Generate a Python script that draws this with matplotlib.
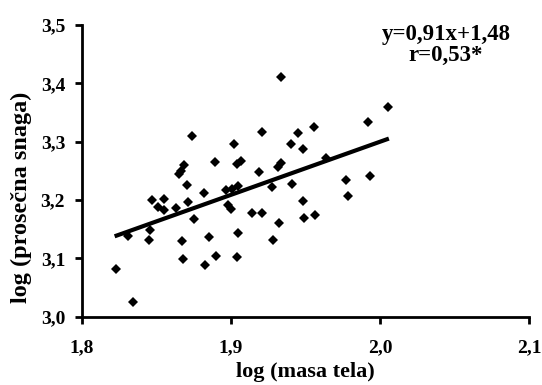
import numpy as np
import matplotlib.pyplot as plt
from matplotlib.ticker import FuncFormatter

# log (masa tela) and log (prosecna snaga)
masa = [1.9336, 1.8736, 1.9210, 1.9450, 1.9555, 1.9022, 1.9403, 1.9483,
        1.8687, 1.8651, 1.8664, 1.8893, 1.9065, 1.9042, 1.9188, 1.9315,
        1.9338, 1.9638, 1.9919, 2.0052, 1.9770, 1.9931, 1.9785, 1.8707,
        1.8817, 1.8964, 1.9007, 1.9049, 1.9277, 1.9411, 1.8474, 1.8550,
        1.8512, 1.8552, 1.8633, 1.8713, 1.8982, 1.8998, 1.8754, 1.9139,
        1.9206, 1.9487, 1.9488, 1.9562, 1.9322, 1.8307, 1.8456, 1.8452,
        1.8669, 1.8854, 1.9049, 1.9280, 1.8676, 1.8899, 1.8826, 1.9042,
        1.8230, 1.8340]
snaga = [3.4115, 3.3099, 3.3168, 3.3156, 3.3259, 3.2967, 3.2967, 3.2882,
         3.2603, 3.2443, 3.2491, 3.2646, 3.2676, 3.2615, 3.2478, 3.2574,
         3.2632, 3.2717, 3.3339, 3.3591, 3.2351, 3.2414, 3.2072, 3.2260,
         3.2118, 3.2175, 3.2187, 3.2243, 3.2221, 3.2272, 3.1998, 3.2021,
         3.1889, 3.1832, 3.1861, 3.1964, 3.1918, 3.1849, 3.1673, 3.1786,
         3.1786, 3.1981, 3.1700, 3.1741, 3.1601, 3.1382, 3.1481, 3.1310,
         3.1293, 3.1370, 3.1433, 3.1313, 3.0988, 3.1050, 3.0896, 3.1024,
         3.0818, 3.0253]

slope = 0.91
intercept = 1.48
fit_x = [1.822, 2.006]

xticks = [1.8, 1.9, 2.0, 2.1]
yticks = [3.0, 3.1, 3.2, 3.3, 3.4, 3.5]

plt.rcParams['font.family'] = ['Liberation Serif', 'DejaVu Serif']
plt.rcParams['font.weight'] = 'bold'

fig = plt.figure(figsize=(5.42, 3.85), dpi=100)
ax = fig.add_axes([0.151, 0.177, 0.825, 0.758])

ax.plot(masa, snaga, linestyle='none', marker='D', markersize=5.5,
        color='black', markeredgewidth=0)
fx = np.array(fit_x)
ax.plot(fx, slope * fx + intercept, color='black', linewidth=3,
        solid_capstyle='butt')

ax.set_xlim(1.8, 2.1)
ax.set_ylim(3.0, 3.5)
ax.set_xticks(xticks)
ax.set_yticks(yticks)
comma = FuncFormatter(lambda v, p: f"{v:.1f}".replace('.', ','))
ax.xaxis.set_major_formatter(comma)
ax.yaxis.set_major_formatter(comma)

for s in ['top', 'right']:
    ax.spines[s].set_visible(False)
for s in ['left', 'bottom']:
    ax.spines[s].set_linewidth(2)
ax.tick_params(direction='out', length=5, width=2, labelsize=14)
ax.tick_params(axis='y', pad=7)
ax.tick_params(axis='x', pad=11)
for lab in ax.get_xticklabels() + ax.get_yticklabels():
    lab.set_fontweight('bold')

ax.set_xlabel("log (masa tela)", fontsize=16, fontweight='bold')
ax.set_ylabel("log (prosečna snaga)", fontsize=17.5, fontweight='bold')
ax.xaxis.set_label_coords(0.5, -0.155)
ax.yaxis.set_label_coords(-0.112, 0.41)

ax.text(0.814, 0.933, "y=0,91x+1,48\nr=0,53*", transform=ax.transAxes,
        ha='center', va='center', fontsize=16.5, fontweight='bold',
        linespacing=1.0)

fig.savefig("out.png", dpi=100)
